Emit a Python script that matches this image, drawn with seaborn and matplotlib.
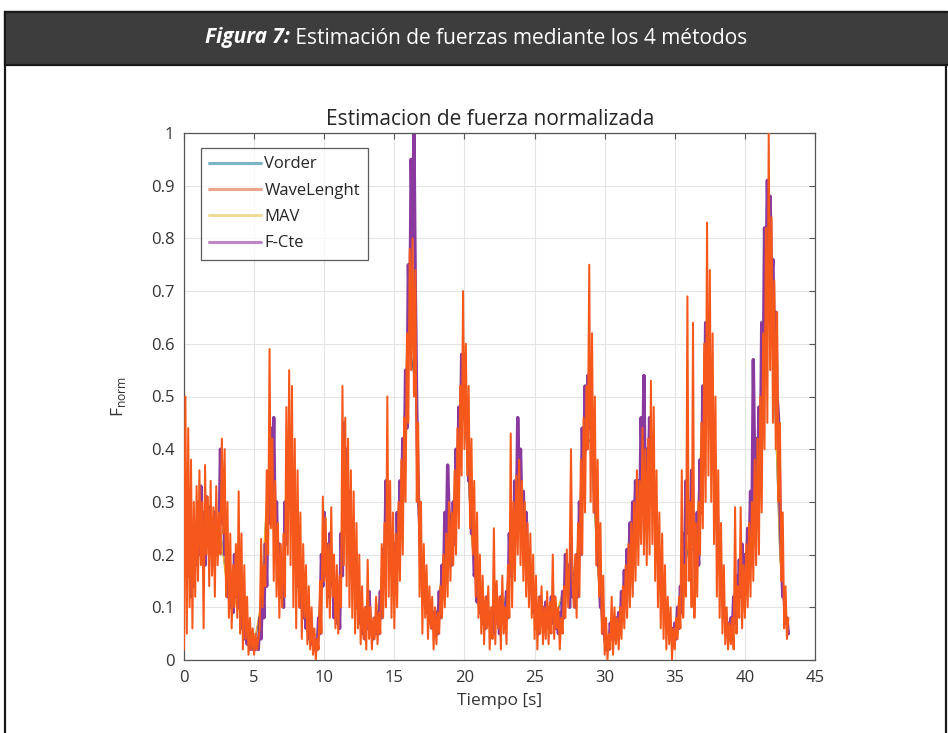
import numpy as np
import pandas as pd
import matplotlib
matplotlib.use("Agg")
import matplotlib.pyplot as plt
from matplotlib.patches import Rectangle
import seaborn as sns

# ---------------- data ----------------
# WaveLenght and F-Cte sampled every 0.1 s from 0.0 s to 43.1 s
wavelenght = [
    0.02, 0.50, 0.05, 0.44, 0.10, 0.38, 0.06, 0.30, 0.12, 0.33,
    0.15, 0.36, 0.18, 0.30, 0.06, 0.37, 0.20, 0.31, 0.14, 0.34,
    0.16, 0.29, 0.12, 0.33, 0.18, 0.28, 0.20, 0.42, 0.24, 0.40,
    0.12, 0.30, 0.08, 0.24, 0.06, 0.18, 0.10, 0.22, 0.08, 0.32,
    0.05, 0.24, 0.02, 0.18, 0.04, 0.12, 0.01, 0.08, 0.02, 0.06,
    0.01, 0.05, 0.02, 0.04, 0.06, 0.23, 0.10, 0.18, 0.14, 0.36,
    0.20, 0.59, 0.25, 0.42, 0.15, 0.34, 0.12, 0.26, 0.08, 0.22,
    0.10, 0.24, 0.12, 0.48, 0.20, 0.55, 0.18, 0.52, 0.10, 0.42,
    0.06, 0.36, 0.10, 0.28, 0.04, 0.22, 0.08, 0.18, 0.03, 0.14,
    0.02, 0.10, 0.01, 0.06, 0.00, 0.04, 0.02, 0.15, 0.05, 0.31,
    0.15, 0.27, 0.10, 0.22, 0.08, 0.29, 0.12, 0.20, 0.06, 0.18,
    0.05, 0.16, 0.10, 0.52, 0.18, 0.46, 0.14, 0.42, 0.10, 0.36,
    0.08, 0.32, 0.05, 0.26, 0.06, 0.20, 0.03, 0.14, 0.04, 0.10,
    0.02, 0.19, 0.04, 0.10, 0.02, 0.08, 0.04, 0.12, 0.03, 0.09,
    0.05, 0.22, 0.08, 0.26, 0.10, 0.50, 0.12, 0.34, 0.08, 0.28,
    0.06, 0.24, 0.10, 0.30, 0.15, 0.38, 0.20, 0.46, 0.30, 0.62,
    0.45, 0.78, 0.55, 0.80, 0.50, 0.74, 0.30, 0.45, 0.12, 0.30,
    0.05, 0.22, 0.08, 0.18, 0.04, 0.14, 0.06, 0.12, 0.02, 0.10,
    0.03, 0.09, 0.05, 0.14, 0.08, 0.20, 0.10, 0.24, 0.12, 0.30,
    0.15, 0.28, 0.18, 0.36, 0.20, 0.44, 0.25, 0.52, 0.35, 0.70,
    0.40, 0.60, 0.35, 0.52, 0.25, 0.42, 0.20, 0.34, 0.12, 0.28,
    0.08, 0.20, 0.05, 0.16, 0.03, 0.12, 0.06, 0.14, 0.02, 0.10,
    0.04, 0.25, 0.03, 0.15, 0.06, 0.12, 0.02, 0.16, 0.05, 0.10,
    0.03, 0.18, 0.08, 0.43, 0.10, 0.30, 0.15, 0.35, 0.20, 0.38,
    0.18, 0.34, 0.15, 0.30, 0.12, 0.26, 0.10, 0.24, 0.08, 0.20,
    0.04, 0.16, 0.02, 0.12, 0.05, 0.14, 0.03, 0.10, 0.04, 0.13,
    0.03, 0.11, 0.05, 0.20, 0.04, 0.12, 0.06, 0.10, 0.02, 0.08,
    0.05, 0.14, 0.08, 0.21, 0.10, 0.18, 0.40, 0.15, 0.10, 0.20,
    0.08, 0.26, 0.12, 0.38, 0.20, 0.46, 0.28, 0.52, 0.40, 0.75,
    0.30, 0.62, 0.28, 0.50, 0.18, 0.38, 0.12, 0.26, 0.05, 0.16,
    0.01, 0.08, 0.00, 0.05, 0.02, 0.12, 0.01, 0.10, 0.03, 0.08,
    0.02, 0.10, 0.04, 0.14, 0.06, 0.18, 0.08, 0.22, 0.10, 0.26,
    0.12, 0.30, 0.15, 0.36, 0.18, 0.34, 0.22, 0.44, 0.20, 0.40,
    0.18, 0.42, 0.20, 0.53, 0.22, 0.48, 0.15, 0.36, 0.10, 0.28,
    0.06, 0.24, 0.04, 0.18, 0.02, 0.12, 0.03, 0.10, 0.00, 0.06,
    0.02, 0.08, 0.04, 0.12, 0.06, 0.36, 0.08, 0.18, 0.12, 0.69,
    0.15, 0.30, 0.10, 0.64, 0.08, 0.26, 0.12, 0.30, 0.20, 0.45,
    0.25, 0.60, 0.30, 0.83, 0.35, 0.74, 0.30, 0.62, 0.22, 0.50,
    0.12, 0.36, 0.08, 0.26, 0.05, 0.18, 0.03, 0.10, 0.02, 0.07,
    0.03, 0.08, 0.02, 0.29, 0.05, 0.14, 0.08, 0.29, 0.06, 0.18,
    0.08, 0.22, 0.10, 0.26, 0.12, 0.30, 0.15, 0.38, 0.18, 0.42,
    0.20, 0.50, 0.28, 0.62, 0.40, 0.82, 0.45, 1.00, 0.55, 0.84,
    0.45, 0.72, 0.40, 0.66, 0.30, 0.45, 0.15, 0.28, 0.06, 0.14,
    0.04, 0.08,
]

f_cte = [
    0.32, 0.18, 0.30, 0.16, 0.26, 0.12, 0.24, 0.14, 0.26, 0.18,
    0.30, 0.20, 0.33, 0.22, 0.28, 0.18, 0.31, 0.22, 0.29, 0.20,
    0.26, 0.18, 0.28, 0.20, 0.25, 0.22, 0.40, 0.26, 0.32, 0.20,
    0.22, 0.12, 0.18, 0.10, 0.15, 0.09, 0.20, 0.12, 0.18, 0.10,
    0.16, 0.06, 0.12, 0.04, 0.08, 0.03, 0.06, 0.02, 0.04, 0.02,
    0.03, 0.02, 0.04, 0.02, 0.08, 0.04, 0.15, 0.08, 0.22, 0.14,
    0.34, 0.26, 0.44, 0.30, 0.46, 0.24, 0.30, 0.16, 0.22, 0.12,
    0.18, 0.10, 0.30, 0.22, 0.42, 0.30, 0.40, 0.26, 0.32, 0.20,
    0.26, 0.14, 0.20, 0.10, 0.16, 0.08, 0.12, 0.06, 0.09, 0.04,
    0.06, 0.03, 0.04, 0.02, 0.03, 0.02, 0.08, 0.05, 0.20, 0.14,
    0.28, 0.16, 0.22, 0.12, 0.24, 0.14, 0.18, 0.08, 0.14, 0.07,
    0.12, 0.06, 0.24, 0.16, 0.45, 0.32, 0.40, 0.26, 0.32, 0.18,
    0.24, 0.14, 0.19, 0.10, 0.14, 0.07, 0.11, 0.05, 0.08, 0.04,
    0.10, 0.06, 0.13, 0.05, 0.07, 0.04, 0.08, 0.05, 0.09, 0.05,
    0.13, 0.08, 0.21, 0.14, 0.34, 0.24, 0.32, 0.18, 0.24, 0.14,
    0.22, 0.15, 0.28, 0.20, 0.34, 0.25, 0.42, 0.32, 0.55, 0.44,
    0.75, 0.62, 0.95, 0.80, 1.00, 0.70, 0.48, 0.32, 0.26, 0.16,
    0.19, 0.12, 0.15, 0.09, 0.12, 0.07, 0.10, 0.06, 0.09, 0.05,
    0.09, 0.05, 0.13, 0.08, 0.18, 0.12, 0.28, 0.20, 0.37, 0.28,
    0.26, 0.18, 0.30, 0.22, 0.40, 0.30, 0.48, 0.38, 0.58, 0.46,
    0.58, 0.46, 0.46, 0.34, 0.34, 0.24, 0.26, 0.16, 0.18, 0.11,
    0.15, 0.09, 0.13, 0.07, 0.11, 0.06, 0.12, 0.07, 0.09, 0.05,
    0.09, 0.05, 0.13, 0.07, 0.10, 0.05, 0.12, 0.07, 0.10, 0.06,
    0.13, 0.08, 0.24, 0.16, 0.28, 0.20, 0.34, 0.26, 0.46, 0.34,
    0.40, 0.28, 0.32, 0.22, 0.28, 0.18, 0.21, 0.13, 0.16, 0.09,
    0.12, 0.06, 0.10, 0.05, 0.12, 0.07, 0.10, 0.06, 0.11, 0.07,
    0.10, 0.06, 0.12, 0.07, 0.12, 0.06, 0.09, 0.05, 0.09, 0.06,
    0.13, 0.08, 0.20, 0.14, 0.18, 0.10, 0.22, 0.12, 0.15, 0.10,
    0.20, 0.12, 0.30, 0.20, 0.44, 0.34, 0.52, 0.40, 0.54, 0.44,
    0.50, 0.38, 0.40, 0.28, 0.30, 0.18, 0.18, 0.10, 0.10, 0.05,
    0.05, 0.02, 0.04, 0.02, 0.07, 0.04, 0.08, 0.04, 0.08, 0.05,
    0.09, 0.05, 0.13, 0.08, 0.17, 0.11, 0.21, 0.14, 0.26, 0.18,
    0.30, 0.22, 0.34, 0.25, 0.34, 0.26, 0.46, 0.34, 0.54, 0.30,
    0.40, 0.30, 0.46, 0.34, 0.42, 0.30, 0.32, 0.22, 0.24, 0.15,
    0.18, 0.11, 0.13, 0.08, 0.10, 0.06, 0.07, 0.04, 0.06, 0.03,
    0.07, 0.04, 0.10, 0.06, 0.14, 0.09, 0.24, 0.16, 0.34, 0.24,
    0.30, 0.20, 0.36, 0.24, 0.24, 0.15, 0.28, 0.18, 0.38, 0.28,
    0.52, 0.40, 0.64, 0.50, 0.62, 0.48, 0.56, 0.42, 0.44, 0.32,
    0.32, 0.22, 0.22, 0.14, 0.14, 0.08, 0.09, 0.05, 0.07, 0.04,
    0.08, 0.05, 0.12, 0.07, 0.16, 0.10, 0.19, 0.12, 0.22, 0.15,
    0.20, 0.14, 0.25, 0.18, 0.32, 0.24, 0.57, 0.36, 0.42, 0.30,
    0.48, 0.36, 0.64, 0.50, 0.82, 0.68, 0.91, 0.78, 0.88, 0.72,
    0.76, 0.60, 0.66, 0.50, 0.46, 0.30, 0.20, 0.12, 0.12, 0.07,
    0.08, 0.05,
]

# Vorder and MAV sampled every 0.5 s (mostly hidden under the others)
vorder = [
    0.25, 0.20, 0.24, 0.25, 0.22, 0.26, 0.16, 0.13, 0.10, 0.05,
    0.03, 0.10, 0.35, 0.22, 0.14, 0.36, 0.20, 0.10, 0.04, 0.04,
    0.20, 0.16, 0.10, 0.36, 0.18, 0.09, 0.07, 0.05, 0.12, 0.28,
    0.18, 0.30, 0.62, 0.52, 0.14, 0.09, 0.08, 0.18, 0.22, 0.38,
    0.48, 0.24, 0.11, 0.08, 0.08, 0.08, 0.12, 0.24, 0.30, 0.18,
    0.09, 0.08, 0.08, 0.08, 0.12, 0.14, 0.18, 0.40, 0.42, 0.18,
    0.03, 0.06, 0.07, 0.15, 0.25, 0.30, 0.34, 0.30, 0.13, 0.06,
    0.05, 0.14, 0.22, 0.20, 0.45, 0.50, 0.24, 0.08, 0.06, 0.12,
    0.16, 0.26, 0.34, 0.70, 0.60, 0.20, 0.06,
]
mav = [
    0.24, 0.21, 0.25, 0.24, 0.21, 0.27, 0.15, 0.12, 0.09, 0.05,
    0.03, 0.11, 0.36, 0.21, 0.15, 0.38, 0.19, 0.09, 0.04, 0.05,
    0.21, 0.15, 0.10, 0.38, 0.17, 0.09, 0.06, 0.05, 0.13, 0.29,
    0.19, 0.31, 0.66, 0.55, 0.13, 0.09, 0.08, 0.19, 0.23, 0.40,
    0.50, 0.23, 0.10, 0.08, 0.09, 0.08, 0.13, 0.25, 0.31, 0.17,
    0.09, 0.08, 0.09, 0.08, 0.13, 0.15, 0.19, 0.42, 0.44, 0.17,
    0.03, 0.06, 0.08, 0.16, 0.26, 0.31, 0.36, 0.29, 0.12, 0.06,
    0.05, 0.15, 0.23, 0.21, 0.48, 0.52, 0.23, 0.08, 0.06, 0.13,
    0.17, 0.27, 0.36, 0.74, 0.62, 0.19, 0.06,
]

series_names = ["Vorder", "WaveLenght", "MAV", "F-Cte"]
x_ticks = [0, 5, 10, 15, 20, 25, 30, 35, 40, 45]
y_ticks = [0, 0.1, 0.2, 0.3, 0.4, 0.5, 0.6, 0.7, 0.8, 0.9, 1]

fine_dt = 0.1
coarse_dt = 0.5

t_fine = np.arange(len(wavelenght)) * fine_dt
t_coarse = np.arange(len(vorder)) * coarse_dt

df = pd.concat([
    pd.DataFrame({"t": t_coarse, "F": vorder, "serie": "Vorder"}),
    pd.DataFrame({"t": t_fine, "F": wavelenght, "serie": "WaveLenght"}),
    pd.DataFrame({"t": t_coarse, "F": mav, "serie": "MAV"}),
    pd.DataFrame({"t": t_fine[:len(f_cte)], "F": f_cte, "serie": "F-Cte"}),
], ignore_index=True)

# ---------------- style ----------------
sns.set_style("white")
plt.rcParams["font.family"] = ["Open Sans", "DejaVu Sans"]
plt.rcParams["mathtext.fontset"] = "custom"
plt.rcParams["mathtext.rm"] = "Open Sans"

line_colors = {"Vorder": "#0072BD", "WaveLenght": "#F5581A",
               "MAV": "#EDB120", "F-Cte": "#8A3A9E"}
legend_colors = {"Vorder": "#7DB3C6", "WaveLenght": "#EBA789",
                 "MAV": "#EEDC98", "F-Cte": "#BF85C4"}
zorders = {"Vorder": 2, "MAV": 2.1, "F-Cte": 2.5, "WaveLenght": 3}
widths = {"Vorder": 1.0, "MAV": 1.0, "F-Cte": 2.4, "WaveLenght": 1.45}

fig = plt.figure(figsize=(9.48, 7.33), dpi=100)
fig.patch.set_facecolor("white")

# frame and dark header
fig.patches.append(Rectangle((5 / 948, -0.05), 941 / 948, 1.05 - 12 / 733,
                             transform=fig.transFigure, facecolor="none",
                             edgecolor="#1a1a1a", lw=1.6, zorder=0))
fig.patches.append(Rectangle((5 / 948, 1 - 65 / 733), 1.0, 53 / 733,
                             transform=fig.transFigure, facecolor="#3d3d3d",
                             edgecolor="#1a1a1a", lw=1.6, zorder=1))

ax = fig.add_axes([184 / 948, 1 - 660 / 733, (815 - 184) / 948, (660 - 133) / 733])

handles = {}
for name in ["Vorder", "MAV", "F-Cte", "WaveLenght"]:
    sub = df[df["serie"] == name]
    sns.lineplot(data=sub, x="t", y="F", ax=ax, color=line_colors[name],
                 lw=widths[name], estimator=None, sort=False,
                 label=name, zorder=zorders[name], legend=False)
    handles[name] = ax.lines[-1]

ax.set_xlim(0, 45)
ax.set_ylim(0, 1)
ax.set_xticks(x_ticks)
ax.set_yticks(y_ticks)
ax.set_xticklabels([str(v) for v in x_ticks])
ax.set_yticklabels(["0" if v == 0 else ("1" if v == 1 else f"{v:.1f}") for v in y_ticks])
ax.grid(True, color="#e4e4e4", lw=0.8)
ax.set_axisbelow(True)
for s in ax.spines.values():
    s.set_color("#555555")
    s.set_linewidth(0.9)
    s.set_visible(True)
ax.tick_params(direction="in", length=4, width=0.8, colors="#555555",
               top=True, right=True, labelsize=12, labelcolor="#333333", pad=7)

ax.set_title("Estimacion de fuerza normalizada", fontsize=15, color="#262626",
             pad=6, x=0.486)
ax.set_xlabel("Tiempo [s]", fontsize=12.5, color="#333333", labelpad=5)
ax.set_ylabel(r"F$_{\mathrm{norm}}$", fontsize=12.5, color="#333333", labelpad=16)

leg = ax.legend([handles[n] for n in series_names], series_names,
                loc="upper left", bbox_to_anchor=(0.027, 0.9715), borderaxespad=0,
                fontsize=12, frameon=True, fancybox=False, edgecolor="#333333",
                handlelength=3.1, labelspacing=0.62, handletextpad=0.2,
                borderpad=0.5)
leg.get_frame().set_linewidth(0.9)
for line, name in zip(leg.get_lines(), series_names):
    line.set_color(legend_colors[name])
    line.set_alpha(1.0)
    line.set_linewidth(2.2)
for txt in leg.get_texts():
    txt.set_color("#262626")

# header text: bold italic "Figura 7:" + regular rest, centered
fig.canvas.draw()
r = fig.canvas.get_renderer()
t1 = fig.text(0, 1 - 38 / 733, "Figura 7:", color="white", fontsize=15,
              fontweight="bold", fontstyle="italic", va="center", ha="left")
t2 = fig.text(0, 1 - 38 / 733, " Estimación de fuerzas mediante los 4 métodos",
              color="white", fontsize=15, va="center", ha="left")
w1 = t1.get_window_extent(r).width
w2 = t2.get_window_extent(r).width
W = fig.get_size_inches()[0] * fig.dpi
x0 = 476 - (w1 + w2) / 2
t1.set_x(x0 / W)
t2.set_x((x0 + w1) / W)

fig.savefig("out.png", dpi=100, facecolor="white")
